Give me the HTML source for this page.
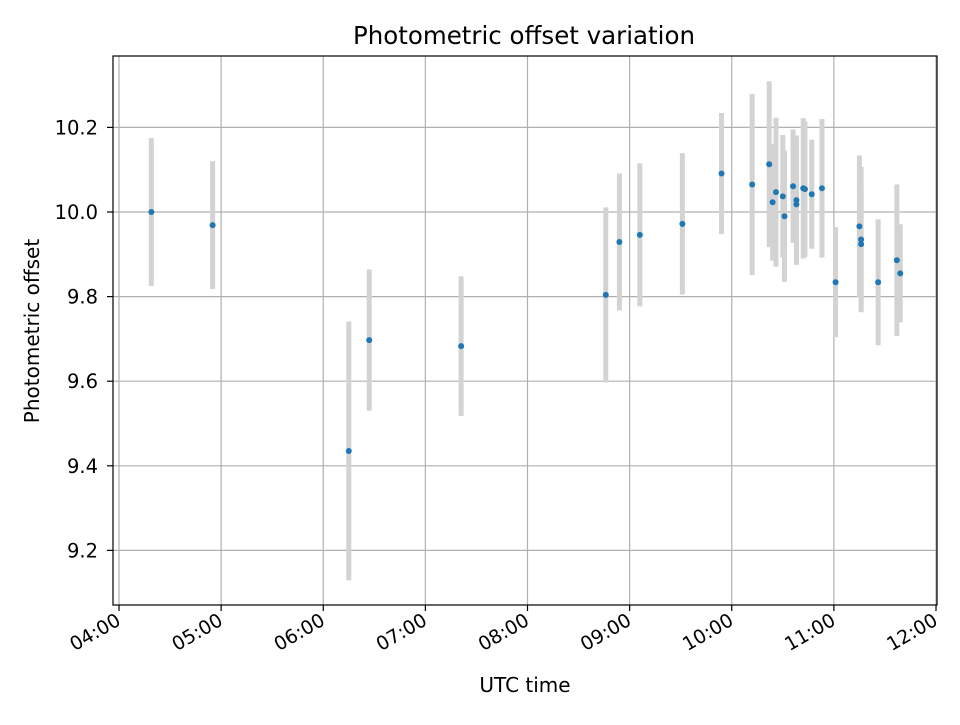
<!DOCTYPE html>
<html><head><meta charset="utf-8"><style>
body{margin:0;background:#fff}
svg text{font-family:"DejaVu Sans","Liberation Sans",sans-serif;fill:#000}
</style></head><body>
<svg id="chart" width="960" height="720" xmlns="http://www.w3.org/2000/svg">
<rect width="960" height="720" fill="#fff"/>
<g id="grid"></g>
<g id="bars"></g>
<g id="pts"></g>
<rect x="113" y="56" width="824" height="549" fill="none" stroke="#000" stroke-width="1.2"/>
<g id="axes"></g>
<text x="524" y="44" font-size="24.5" text-anchor="middle">Photometric offset variation</text>
<text x="525" y="692" font-size="20" text-anchor="middle">UTC time</text>
<text transform="translate(39,331) rotate(-90)" font-size="20" text-anchor="middle">Photometric offset</text>
</svg>
<script>
const times=["04:19","04:55","06:15","06:27","07:21","08:46","08:54","09:06","09:31","09:54","10:12","10:22","10:24","10:26","10:30","10:31","10:36","10:38","10:38","10:42","10:43","10:47","10:53","11:01","11:15","11:16","11:16","11:26","11:37","11:39"];
const values=[10.000,9.969,9.435,9.697,9.683,9.804,9.929,9.946,9.972,10.091,10.065,10.113,10.023,10.047,10.037,9.990,10.061,10.028,10.018,10.056,10.054,10.042,10.056,9.834,9.966,9.935,9.924,9.834,9.886,9.855];
const errors=[0.175,0.151,0.306,0.167,0.165,0.207,0.162,0.169,0.167,0.143,0.214,0.196,0.138,0.176,0.145,0.155,0.134,0.153,0.14,0.166,0.16,0.129,0.164,0.13,0.168,0.172,0.14,0.149,0.179,0.116];
const xTicks=["04:00","05:00","06:00","07:00","08:00","09:00","10:00","11:00","12:00"];
const yTicks=[9.2,9.4,9.6,9.8,10.0,10.2];
const NS="http://www.w3.org/2000/svg";
function mins(s){const p=s.split(":");return +p[0]*60+ +p[1];}
function xs(s){return 119+(mins(s)-240)*817/480;}
function ys(v){return 212-(v-10)*423;}
function mk(tag,attrs,parent){const e=document.createElementNS(NS,tag);for(const k in attrs)e.setAttribute(k,attrs[k]);document.getElementById(parent).appendChild(e);return e;}
xTicks.forEach(t=>{const x=xs(t);
 let g=mk("line",{x1:x,x2:x,y1:56,y2:605,stroke:"#b0b0b0","stroke-width":1.2},"grid");
 
 
 let tk=mk("line",{x1:x,x2:x,y1:605,y2:611,stroke:"#000","stroke-width":1.2},"axes");
 
 
 let tx=mk("text",{x:x+3,y:624,"font-size":19,"text-anchor":"end",transform:`rotate(-30 ${x+3} 624)`},"axes");
 tx.textContent=t;
 
 
});
yTicks.forEach(v=>{const y=ys(v);
 let g=mk("line",{x1:113,x2:937,y1:y,y2:y,stroke:"#b0b0b0","stroke-width":1.2},"grid");
 
 
 let tk=mk("line",{x1:107,x2:113,y1:y,y2:y,stroke:"#000","stroke-width":1.2},"axes");
 
 
 let tx=mk("text",{x:98,y:y+7,"font-size":19.5,"text-anchor":"end"},"axes");
 tx.textContent=v.toFixed(1);
 
 
});
times.forEach((t,i)=>{const x=xs(t);
 let b=mk("line",{x1:x,x2:x,y1:ys(values[i]+errors[i]),y2:ys(values[i]-errors[i]),stroke:"#d3d3d3","stroke-width":5},"bars");
 
 
});
times.forEach((t,i)=>{
 let c=mk("circle",{cx:xs(t),cy:ys(values[i]),r:3,fill:"#1f77b4"},"pts");
 
 
});
</script>
</body></html>
